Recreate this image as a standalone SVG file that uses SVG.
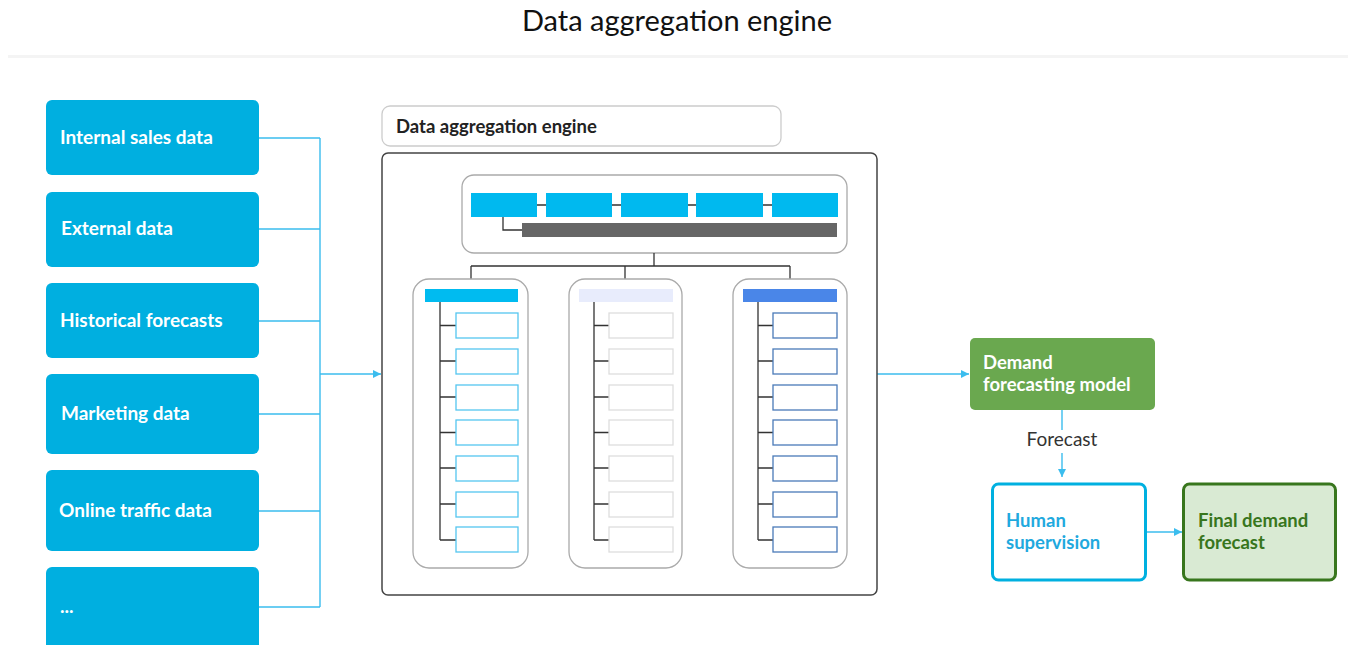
<svg xmlns="http://www.w3.org/2000/svg" width="1352" height="645" viewBox="0 0 1352 645">
<defs>
<style>
.src{fill:#00afe0}
.srct{font-family:Lato,"Liberation Sans",sans-serif;font-weight:bold;font-size:19px;fill:#ffffff}
.conn{fill:none;stroke:#3bbdee;stroke-width:1.4}
.tree{fill:none;stroke:#333333;stroke-width:1.3}
.col{fill:#ffffff;stroke:#aaaaaa;stroke-width:1.3}
.c1{fill:#ffffff;stroke:#55c6f0;stroke-width:1.3}
.c2{fill:#ffffff;stroke:#dddddd;stroke-width:1.3}
.c3{fill:#ffffff;stroke:#4a7ab8;stroke-width:1.3}
.tb{fill:#00b9ef}
.lbl{font-family:Lato,"Liberation Sans",sans-serif;font-size:18.5px}
</style>
<marker id="ah" viewBox="0 0 10 10" refX="10" refY="5" markerWidth="8" markerHeight="8" markerUnits="userSpaceOnUse" orient="auto">
<path d="M0,0 L10,5 L0,10 z" fill="#3bbdee"/>
</marker>
</defs>
<rect width="1352" height="645" fill="#ffffff"/>
<text x="677" y="31" text-anchor="middle" font-family="Lato,'Liberation Sans',sans-serif" font-size="29" fill="#111111">Data aggregation engine</text>
<rect x="8" y="55" width="1340" height="3" fill="#f4f4f4"/>

<g id="connectors">
<path class="conn" d="M259,138 H320 M259,229 H320 M259,321 H320 M259,414 H320 M259,511 H320 M259,607 H320 M320,138 V607"/>
<path class="conn" d="M320,374 H381" marker-end="url(#ah)"/>
<path class="conn" d="M877,374 H969" marker-end="url(#ah)"/>
<path class="conn" d="M1062,406 V430"/>
<path class="conn" d="M1062,453 V477" marker-end="url(#ah)"/>
<path class="conn" d="M1146,532 H1182" marker-end="url(#ah)"/>
</g>

<g id="internal-sales-data"><rect class="src" x="46" y="100" width="213" height="75" rx="6"/><text class="srct" x="60" y="144">Internal sales data</text></g>
<g id="external-data"><rect class="src" x="46" y="192" width="213" height="75" rx="6"/><text class="srct" x="61" y="235">External data</text></g>
<g id="historical-forecasts"><rect class="src" x="46" y="283" width="213" height="75" rx="6"/><text class="srct" x="60" y="327">Historical forecasts</text></g>
<g id="marketing-data"><rect class="src" x="46" y="374" width="213" height="80" rx="6"/><text class="srct" x="61" y="420">Marketing data</text></g>
<g id="online-traffic-data"><rect class="src" x="46" y="470" width="213" height="81" rx="6"/><text class="srct" x="59" y="517">Online traffic data</text></g>
<g id="more-data"><rect class="src" x="46" y="567" width="213" height="85" rx="6"/><text class="srct" x="60" y="613">...</text></g>

<g id="engine-label"><rect x="382" y="106" width="399" height="40" rx="8" fill="#ffffff" stroke="#cccccc" stroke-width="1.3"/><text x="396" y="133" font-family="Lato,'Liberation Sans',sans-serif" font-weight="bold" font-size="18.5" fill="#222222">Data aggregation engine</text></g>

<g id="engine">
<rect x="382" y="153" width="495" height="442" rx="6" fill="#ffffff" stroke="#444444" stroke-width="1.5"/>
<rect x="462" y="175" width="385" height="78" rx="12" fill="#ffffff" stroke="#aaaaaa" stroke-width="1.3"/>
<path class="tree" d="M537,205 H546 M612,205 H621 M688,205 H696 M763,205 H772 M503,217 V230 H522"/>
<rect class="tb" x="471" y="193" width="66" height="24"/>
<rect class="tb" x="546" y="193" width="66" height="24"/>
<rect class="tb" x="621" y="193" width="67" height="24"/>
<rect class="tb" x="696" y="193" width="67" height="24"/>
<rect class="tb" x="772" y="193" width="66" height="24"/>
<rect x="522" y="223" width="315" height="14" fill="#666666"/>
<path class="tree" d="M654,253 V266 M471,266 H790 M471,266 V279 M625,266 V279 M790,266 V279"/>

<rect class="col" x="413" y="279" width="115" height="289" rx="16"/>
<rect x="425" y="289" width="93" height="13" fill="#00bbf0"/>
<path class="tree" d="M440,302 V540 M440,325.5 H456 M440,361 H456 M440,397 H456 M440,432.5 H456 M440,468 H456 M440,504 H456 M440,540 H456"/>
<rect class="c1" x="456" y="313" width="62" height="25"/>
<rect class="c1" x="456" y="349" width="62" height="25"/>
<rect class="c1" x="456" y="385" width="62" height="25"/>
<rect class="c1" x="456" y="420" width="62" height="25"/>
<rect class="c1" x="456" y="456" width="62" height="25"/>
<rect class="c1" x="456" y="492" width="62" height="25"/>
<rect class="c1" x="456" y="527" width="62" height="25"/>

<rect class="col" x="569" y="279" width="113" height="289" rx="16"/>
<rect x="579" y="289" width="94" height="13" fill="#e8ecfc"/>
<path class="tree" d="M594,302 V540 M594,325.5 H609 M594,361 H609 M594,397 H609 M594,432.5 H609 M594,468 H609 M594,504 H609 M594,540 H609"/>
<rect class="c2" x="609" y="313" width="64" height="25"/>
<rect class="c2" x="609" y="349" width="64" height="25"/>
<rect class="c2" x="609" y="385" width="64" height="25"/>
<rect class="c2" x="609" y="420" width="64" height="25"/>
<rect class="c2" x="609" y="456" width="64" height="25"/>
<rect class="c2" x="609" y="492" width="64" height="25"/>
<rect class="c2" x="609" y="527" width="64" height="25"/>

<rect class="col" x="733" y="279" width="114" height="289" rx="16"/>
<rect x="743" y="289" width="94" height="13" fill="#4a86e8"/>
<path class="tree" d="M758,302 V540 M758,325.5 H773 M758,361 H773 M758,397 H773 M758,432.5 H773 M758,468 H773 M758,504 H773 M758,540 H773"/>
<rect class="c3" x="773" y="313" width="64" height="25"/>
<rect class="c3" x="773" y="349" width="64" height="25"/>
<rect class="c3" x="773" y="385" width="64" height="25"/>
<rect class="c3" x="773" y="420" width="64" height="25"/>
<rect class="c3" x="773" y="456" width="64" height="25"/>
<rect class="c3" x="773" y="492" width="64" height="25"/>
<rect class="c3" x="773" y="527" width="64" height="25"/>
</g>

<g id="demand-model"><rect x="970" y="338" width="185" height="72" rx="5" fill="#6aa84f"/><text class="lbl" x="983" y="369" font-weight="bold" fill="#ffffff">Demand</text><text class="lbl" x="983" y="391" font-weight="bold" fill="#ffffff">forecasting model</text></g>
<text x="1062" y="446" text-anchor="middle" font-family="Lato,'Liberation Sans',sans-serif" font-size="19" fill="#333333">Forecast</text>
<g id="human-supervision"><rect x="992.5" y="484" width="153" height="96" rx="6" fill="#ffffff" stroke="#00b0e0" stroke-width="3"/><text class="lbl" x="1006" y="527" font-weight="bold" fill="#1fa9de">Human</text><text class="lbl" x="1006" y="549" font-weight="bold" fill="#1fa9de">supervision</text></g>
<g id="final-forecast"><rect x="1183.5" y="484" width="152" height="96" rx="6" fill="#d9ead3" stroke="#38761d" stroke-width="3"/><text class="lbl" x="1198" y="527" font-weight="bold" fill="#38761d">Final demand</text><text class="lbl" x="1198" y="549" font-weight="bold" fill="#38761d">forecast</text></g>
</svg>
